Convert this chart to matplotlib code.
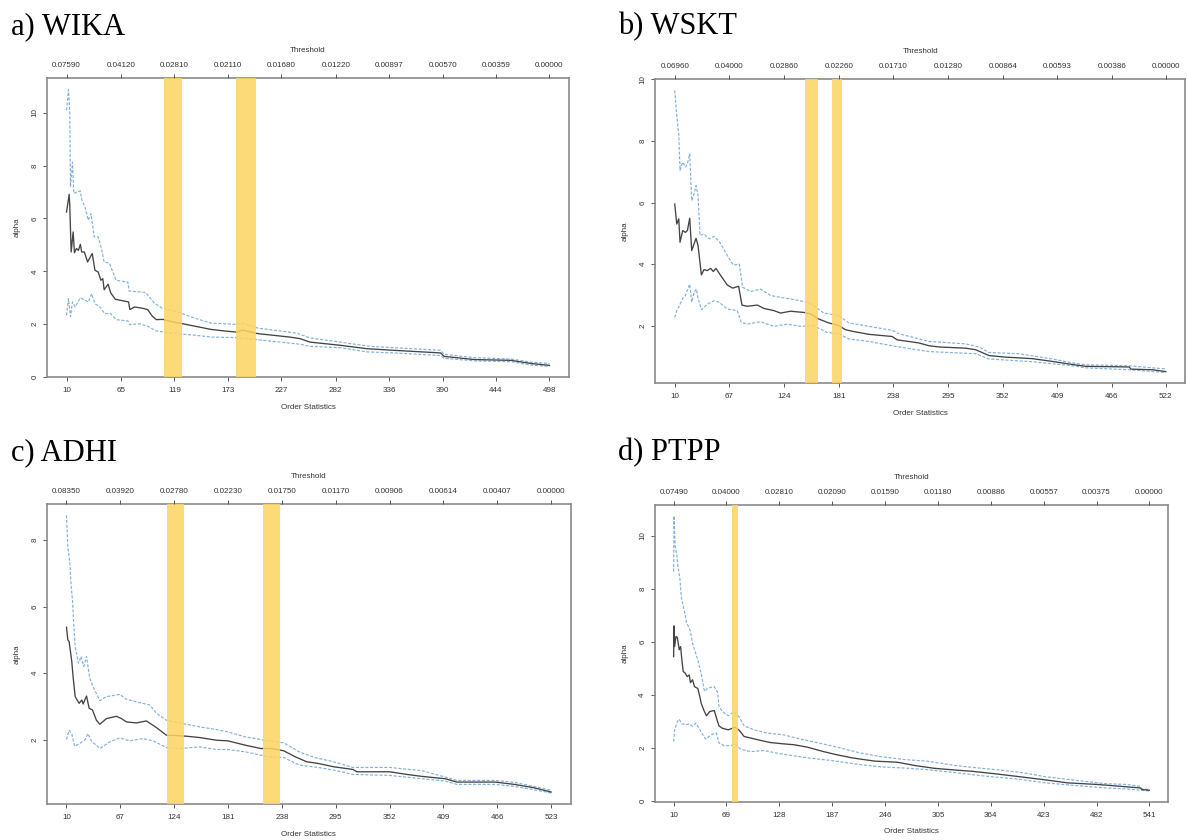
import matplotlib.pyplot as plt

# a) WIKA
wika_ticks = [10, 65, 119, 173, 227, 282, 336, 390, 444, 498]
wika_thresholds = ["0.07590", "0.04120", "0.02810", "0.02110", "0.01680",
                   "0.01220", "0.00897", "0.00570", "0.00359", "0.00000"]
wika_alpha = [(10, 6.24), (12.7, 6.91), (13.3, 6.46), (14.7, 4.73), (16.7, 5.49), (18, 4.70), (20, 4.86),
              (22, 4.79), (24, 5.02), (25.3, 4.73), (28, 4.73), (31.3, 4.35), (34, 4.54), (36, 4.67),
              (38.7, 4.04), (42, 3.97), (44.7, 3.66), (46.7, 3.72), (48, 3.30), (52, 3.51), (54.7, 3.18),
              (59.3, 2.94), (67.3, 2.88), (72.7, 2.84), (74, 2.55), (78.7, 2.65), (86.7, 2.60), (92, 2.55),
              (96.7, 2.30), (100.7, 2.17), (107.3, 2.18), (116.7, 2.09), (126.7, 2.02), (140, 1.92),
              (156, 1.80), (170, 1.74), (181.5, 1.70), (188, 1.77), (203.5, 1.64), (235.7, 1.51),
              (246, 1.45), (256, 1.32), (286.5, 1.20), (313.6, 1.07), (340.7, 1.01), (388, 0.91),
              (391.5, 0.78), (422, 0.66), (459, 0.63), (479.5, 0.51), (498, 0.44)]
wika_upper = [(10, 10.09), (12, 10.87), (13.3, 9.96), (14, 7.19), (16, 8.13), (17.3, 6.94), (20.7, 7.0),
              (24, 7.04), (25.3, 6.71), (28.7, 6.43), (32, 5.93), (34.7, 6.18), (38, 5.30), (42, 5.30),
              (45.3, 4.86), (48, 4.35), (53.3, 4.31), (60, 3.66), (72, 3.59), (73.3, 3.25), (90, 3.20),
              (98.7, 2.80), (106.7, 2.60), (116.7, 2.52), (126.7, 2.40), (140, 2.22), (156, 2.04),
              (181.5, 1.99), (188, 2.04), (203.5, 1.85), (242.5, 1.66), (256, 1.48), (286.5, 1.32),
              (316.8, 1.16), (340.7, 1.11), (388, 1.01), (391.5, 0.86), (422, 0.73), (459, 0.68),
              (479.5, 0.56), (498, 0.51)]
wika_lower = [(10, 2.33), (12, 2.96), (14, 2.29), (16, 2.84), (18.7, 2.65), (24, 3.0), (28.7, 2.90),
              (32, 2.84), (35.3, 3.15), (38.7, 2.77), (43.3, 2.67), (48.7, 2.40), (54.7, 2.40), (60, 2.17),
              (72, 2.12), (74, 1.98), (83.3, 2.02), (92, 1.92), (100.7, 1.74), (116.7, 1.66), (140, 1.58),
              (156.7, 1.51), (181.5, 1.49), (203.5, 1.41), (246, 1.24), (256, 1.16), (286.5, 1.11),
              (313.6, 0.95), (340.7, 0.91), (388, 0.81), (391.5, 0.71), (422, 0.61), (459, 0.58),
              (479.5, 0.45), (498, 0.40)]
wika_bands = [(108, 126.5), (181, 201)]

# b) WSKT
wskt_ticks = [10, 67, 124, 181, 238, 295, 352, 409, 466, 522]
wskt_thresholds = ["0.06960", "0.04000", "0.02860", "0.02260", "0.01710",
                   "0.01280", "0.00864", "0.00593", "0.00386", "0.00000"]
wskt_alpha = [(10, 5.95), (12.1, 5.30), (14.2, 5.47), (15.5, 4.71), (18.3, 5.09), (21.1, 5.03), (23.2, 5.09),
              (25.6, 5.49), (27.7, 4.44), (30.1, 4.65), (32.2, 4.84), (34.3, 4.60), (35.7, 4.22),
              (37.8, 3.65), (40.5, 3.82), (44, 3.79), (47.5, 3.86), (50.2, 3.76), (53, 3.86), (57.9, 3.63),
              (64.8, 3.32), (70.4, 3.22), (76.6, 3.28), (80.1, 2.67), (85.6, 2.63), (96, 2.67), (103, 2.56),
              (113.4, 2.49), (120.3, 2.41), (130.7, 2.47), (144.6, 2.43), (151.5, 2.39), (160, 2.22),
              (170.6, 2.09), (181, 2.01), (188, 1.87), (195, 1.82), (212.3, 1.72), (236.7, 1.65),
              (242, 1.54), (264.6, 1.44), (275, 1.35), (285.5, 1.31), (313.3, 1.27), (323.8, 1.22),
              (337.7, 1.03), (355, 0.98), (383, 0.93), (403.8, 0.84), (424.7, 0.74), (438.7, 0.68),
              (484, 0.66), (485.7, 0.59), (508.3, 0.57), (522, 0.51)]
wskt_upper = [(10, 9.64), (12.1, 8.83), (14.2, 8.20), (15.5, 7.04), (18.3, 7.31), (21.1, 7.15), (23.2, 7.25),
              (25.6, 7.58), (27.7, 6.06), (30.1, 6.28), (32.2, 6.55), (34.3, 6.23), (36.4, 4.93),
              (40.5, 4.98), (46, 4.82), (50.9, 4.90), (56.5, 4.73), (64.8, 4.28), (71, 3.97), (77.3, 4.0),
              (80.8, 3.25), (89.1, 3.11), (99.5, 3.19), (109.9, 2.98), (120.3, 2.92), (134.2, 2.85),
              (148, 2.76), (155, 2.65), (165.4, 2.41), (181, 2.33), (191.4, 2.09), (212.3, 1.98),
              (236.7, 1.85), (243.7, 1.74), (275, 1.49), (313.3, 1.41), (327.2, 1.31), (337.7, 1.13),
              (369, 1.09), (403.8, 0.92), (424.7, 0.79), (438.7, 0.73), (484, 0.70), (508.3, 0.63),
              (522, 0.60)]
wskt_lower = [(10, 2.27), (12.1, 2.49), (14.9, 2.65), (18.3, 2.89), (21.1, 2.98), (25.6, 3.35), (27.7, 2.76),
              (30.1, 3.08), (32.5, 3.19), (34.3, 2.89), (37.8, 2.52), (44, 2.70), (50.9, 2.81), (56.5, 2.76),
              (64.8, 2.54), (75.2, 2.49), (79.4, 2.11), (85.6, 2.05), (99.5, 2.13), (113.4, 1.98),
              (127.2, 2.05), (141.1, 1.98), (155, 2.0), (168.9, 1.78), (181, 1.74), (191.4, 1.57),
              (212.3, 1.49), (240, 1.33), (275, 1.16), (323.8, 1.09), (337.7, 0.92), (383, 0.83),
              (424.7, 0.70), (438.7, 0.63), (484, 0.57), (522, 0.48)]
wskt_bands = [(145.6, 159.3), (174.3, 184.7)]

# c) ADHI
adhi_ticks = [10, 67, 124, 181, 238, 295, 352, 409, 466, 523]
adhi_thresholds = ["0.08350", "0.03920", "0.02780", "0.02230", "0.01750",
                   "0.01170", "0.00906", "0.00614", "0.00407", "0.00000"]
adhi_alpha = [(10, 5.38), (11.4, 5.0), (12.8, 4.95), (14.2, 4.65), (15.6, 4.35), (17, 3.89), (19.2, 3.29),
              (21.3, 3.19), (23.4, 3.09), (26.2, 3.19), (27.6, 3.07), (31.2, 3.31), (34, 2.94), (37.5, 2.89),
              (41.7, 2.58), (45.3, 2.46), (52.3, 2.63), (62.9, 2.70), (68.2, 2.63), (73.5, 2.53), (84, 2.50),
              (94.6, 2.56), (105.2, 2.36), (115.8, 2.13), (126.4, 2.12), (137, 2.10), (151, 2.06),
              (168.7, 1.98), (181, 1.96), (199.3, 1.83), (215.6, 1.73), (227.8, 1.73), (240, 1.66),
              (252.2, 1.48), (264.4, 1.33), (276.6, 1.28), (292.9, 1.18), (313.2, 1.10), (317.3, 1.03),
              (352, 1.03), (370.3, 0.95), (386.6, 0.89), (411, 0.82), (423.2, 0.72), (463.9, 0.72),
              (484.2, 0.65), (504.6, 0.55), (523, 0.42)]
adhi_upper = [(10, 8.75), (11.4, 7.82), (13.5, 7.32), (14.9, 6.63), (16.3, 6.21), (17.8, 5.40), (19.2, 4.80),
              (22.7, 4.30), (25.5, 4.50), (28.3, 4.20), (31.2, 4.50), (34.7, 3.84), (38.2, 3.59),
              (45.3, 3.17), (52.3, 3.29), (66.4, 3.36), (73.5, 3.21), (87.6, 3.11), (98.2, 3.04),
              (105.2, 2.79), (115.8, 2.58), (129.9, 2.50), (151, 2.38), (168.7, 2.30), (181, 2.23),
              (199.3, 2.08), (223.7, 1.96), (240, 1.90), (256.3, 1.63), (272.5, 1.46), (292.9, 1.33),
              (313.2, 1.16), (352, 1.16), (386.6, 1.06), (411, 0.87), (423.2, 0.77), (463.9, 0.77),
              (484.2, 0.71), (504.6, 0.59), (523, 0.47)]
adhi_lower = [(10, 2.0), (12.8, 2.28), (15.6, 2.18), (18.5, 1.80), (24.1, 1.88), (29.7, 2.0), (32.6, 2.18),
              (36.8, 1.93), (41.7, 1.83), (45.3, 1.73), (55.8, 1.93), (66.4, 2.05), (77, 1.96), (91.1, 2.03),
              (101.7, 1.96), (115.8, 1.76), (129.9, 1.73), (151, 1.78), (168.7, 1.70), (181, 1.70),
              (199.3, 1.63), (223.7, 1.48), (240, 1.46), (256.3, 1.23), (276.6, 1.16), (292.9, 1.08),
              (313.2, 0.95), (352, 0.92), (386.6, 0.82), (411, 0.75), (423.2, 0.65), (463.9, 0.65),
              (484.2, 0.59), (504.6, 0.49), (523, 0.39)]
adhi_bands = [(116.5, 134.5), (218, 236)]

# d) PTPP
ptpp_ticks = [10, 69, 128, 187, 246, 305, 364, 423, 482, 541]
ptpp_thresholds = ["0.07490", "0.04000", "0.02810", "0.02090", "0.01590",
                   "0.01180", "0.00886", "0.00557", "0.00375", "0.00000"]
ptpp_alpha = [(10, 5.45), (10.4, 6.61), (11.1, 5.83), (12.6, 6.21), (14.1, 6.18), (16.3, 5.71), (17.8, 5.83),
              (19.2, 5.33), (20.7, 4.89), (22.9, 4.83), (25.1, 4.70), (27.4, 4.76), (28.8, 4.47),
              (31.1, 4.58), (33.3, 4.32), (37, 4.25), (39.2, 3.95), (40.7, 3.70), (43.6, 3.44),
              (46.6, 3.22), (50.3, 3.38), (55.4, 3.42), (58.4, 3.07), (60.6, 2.84), (64.3, 2.75),
              (71, 2.69), (78.3, 2.79), (82.8, 2.69), (88.7, 2.44), (96.1, 2.38), (107.2, 2.29),
              (118.2, 2.21), (133, 2.16), (144.1, 2.13), (158.9, 2.04), (177.3, 1.87), (192.1, 1.75),
              (209.8, 1.63), (234.5, 1.51), (259.4, 1.47), (280.1, 1.34), (300.8, 1.24), (325.7, 1.17),
              (342.2, 1.13), (367, 1.04), (391.9, 0.94), (420.9, 0.82), (449.9, 0.69), (483, 0.63),
              (516.2, 0.54), (530.7, 0.50), (532.7, 0.44), (541, 0.41)]
ptpp_upper = [(10, 8.66), (10.4, 10.76), (11.8, 9.60), (13.3, 9.35), (14.8, 8.85), (17, 8.41), (18.5, 7.72),
              (20.7, 7.34), (22.9, 7.03), (24.4, 6.71), (26.6, 6.59), (28.8, 6.40), (31.1, 5.96), (34, 5.64),
              (37, 5.33), (40.7, 4.83), (44.4, 4.14), (48, 4.26), (55.4, 4.32), (59.1, 4.10), (60.6, 3.57),
              (64.3, 3.38), (71, 3.22), (77.6, 3.38), (82.8, 3.19), (88.7, 2.84), (99.8, 2.69),
              (114.5, 2.57), (133, 2.50), (151.5, 2.34), (170, 2.21), (192.1, 2.04), (218, 1.82),
              (242.9, 1.67), (267.7, 1.57), (292.6, 1.51), (325.7, 1.34), (350.6, 1.25), (375.4, 1.17),
              (400.3, 1.07), (425.1, 0.92), (458.3, 0.79), (491.4, 0.66), (516.2, 0.63), (530.7, 0.56),
              (532.7, 0.46), (541, 0.44)]
ptpp_lower = [(10, 2.25), (11.1, 2.69), (14.1, 3.0), (16.3, 3.09), (19.2, 2.92), (23.7, 2.88), (27.4, 2.92),
              (31.1, 2.82), (34.8, 2.94), (38.4, 2.75), (41.4, 2.57), (45.8, 2.34), (51.7, 2.50),
              (57.7, 2.57), (60.6, 2.19), (66.5, 2.09), (73.9, 2.09), (78.3, 2.16), (84.9, 1.96),
              (96.1, 1.87), (110.9, 1.91), (125.6, 1.81), (144.1, 1.71), (162.6, 1.62), (184.7, 1.54),
              (218, 1.38), (242.9, 1.29), (267.7, 1.25), (292.6, 1.19), (325.7, 1.07), (358.9, 0.94),
              (392, 0.84), (425.1, 0.69), (458.3, 0.59), (491.4, 0.50), (516.2, 0.46), (532.7, 0.41),
              (541, 0.38)]
ptpp_bands = [(75.5, 81.3)]

W, H = 1187, 840
TEXT = "#333333"
SPINE = "#8a8a8a"
BLUE = "#82b1dc"
BAND = "#fdd460"

plt.rcParams["font.family"] = ["Liberation Sans", "DejaVu Sans"]

fig = plt.figure(figsize=(W / 100, H / 100), dpi=100)


def px_rect(left, top, right, bottom):
    return [left / W, 1 - bottom / H, (right - left) / W, (bottom - top) / H]


def hill_panel(rect, title, title_xy, ticks, thresholds, yticks, ylim,
               alpha, upper, lower, bands):
    ax = fig.add_axes(rect)
    span = ticks[-1] - ticks[0]
    xlim = (ticks[0] - 0.04 * span, ticks[-1] + 0.04 * span)

    for series, style in [(upper, dict(color=BLUE, lw=0.85, dashes=(2.6, 1.4))),
                          (lower, dict(color=BLUE, lw=0.85, dashes=(2.6, 1.4))),
                          (alpha, dict(color="#444444", lw=0.95))]:
        ks = [p[0] for p in series]
        vs = [p[1] for p in series]
        ax.plot(ks, vs, **style)

    for lo, hi in bands:
        ax.axvspan(lo, hi, color=BAND, alpha=0.85, lw=0, zorder=3)

    ax.set_xlim(*xlim)
    ax.set_ylim(*ylim)
    ax.set_xticks(ticks)
    ax.set_xticklabels([str(t) for t in ticks])
    ax.set_yticks(yticks)
    ax.set_yticklabels([str(t) for t in yticks], rotation=90, va="center")
    ax.tick_params(length=3, width=0.7, color="#555555", labelsize=5.8,
                   labelcolor=TEXT)
    ax.tick_params(axis="x", pad=4.2)
    ax.tick_params(axis="y", pad=3.0)
    ax.set_xlabel("Order Statistics", fontsize=5.8, color=TEXT, labelpad=7)
    ax.set_ylabel("alpha", fontsize=5.8, color=TEXT, labelpad=8)
    for s in ax.spines.values():
        s.set_color(SPINE)
        s.set_linewidth(1.2)

    top = ax.twiny()
    top.set_xlim(*xlim)
    top.set_xticks(ticks)
    top.set_xticklabels(thresholds)
    top.tick_params(length=3, width=0.7, color="#555555", labelsize=5.8,
                    labelcolor=TEXT, pad=3.8)
    top.set_xlabel("Threshold", fontsize=5.8, color=TEXT, labelpad=7)
    for s in top.spines.values():
        s.set_visible(False)

    fig.text(title_xy[0] / W, 1 - title_xy[1] / H, title,
             family=["Liberation Serif", "DejaVu Serif"], fontsize=22,
             va="baseline", ha="left")


hill_panel(px_rect(47.2, 78.3, 568.8, 377), "a) WIKA", (11, 34.3),
           wika_ticks, wika_thresholds, [0, 2, 4, 6, 8, 10], (0.0, 11.3),
           wika_alpha, wika_upper, wika_lower, wika_bands)
hill_panel(px_rect(655.1, 79.3, 1185.4, 383.3), "b) WSKT", (618, 34.3),
           wskt_ticks, wskt_thresholds, [2, 4, 6, 8, 10], (0.13, 10.0),
           wskt_alpha, wskt_upper, wskt_lower, wskt_bands)
hill_panel(px_rect(47.1, 504.3, 570.5, 804), "c) ADHI", (11, 460.7),
           adhi_ticks, adhi_thresholds, [2, 4, 6, 8], (0.06, 9.08),
           adhi_alpha, adhi_upper, adhi_lower, adhi_bands)
hill_panel(px_rect(654.6, 505, 1168.4, 801.7), "d) PTPP", (618, 460.7),
           ptpp_ticks, ptpp_thresholds, [0, 2, 4, 6, 8, 10], (-0.02, 11.17),
           ptpp_alpha, ptpp_upper, ptpp_lower, ptpp_bands)

fig.savefig("out.png", dpi=100)
